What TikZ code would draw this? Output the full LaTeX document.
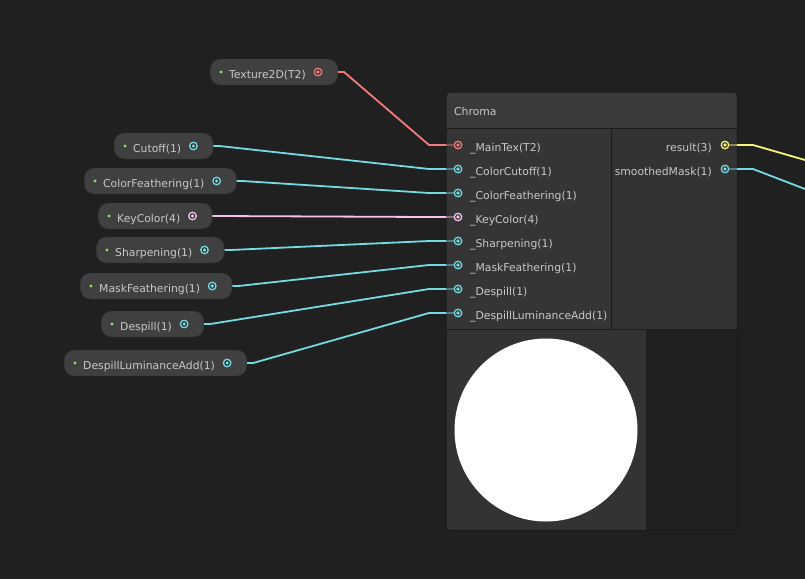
\documentclass[tikz,border=0pt]{standalone}
\usepackage{fontspec}
\setmainfont{DejaVu Sans}
\usetikzlibrary{calc}
\definecolor{canvas}{HTML}{202020}
\definecolor{propfill}{HTML}{404040}
\definecolor{propedge}{HTML}{2a2a2a}
\definecolor{headfill}{HTML}{3a3a3a}
\definecolor{infill}{HTML}{353535}
\definecolor{outfill}{HTML}{333333}
\definecolor{prevfill}{HTML}{333333}
\definecolor{frameedge}{HTML}{1a1a1a}
\definecolor{labelgray}{HTML}{c8c8c8}
\definecolor{portdark}{HTML}{2c2c2c}
\definecolor{dotgreen}{HTML}{8de05b}
\definecolor{flt}{HTML}{74dbe2}
\definecolor{texred}{HTML}{f27c7c}
\definecolor{colpink}{HTML}{f4c2ec}
\definecolor{vecyel}{HTML}{f5f57a}
\newcommand\uifont{\fontsize{10.8}{12}\selectfont}
\tikzstyle{prop}=[rectangle, draw=propedge, fill=propfill, rounded corners=10pt, minimum height=26pt, inner xsep=19pt, inner ysep=0pt, text height=12pt, text depth=0pt, text=labelgray, font=\uifont]
\tikzstyle{slot}=[inner sep=2pt, text height=12pt, text depth=0pt, text=labelgray, font=\uifont]
\tikzset{port/.style={circle, draw=#1, fill=portdark, line width=1.3pt, minimum size=7.5pt, inner sep=0pt,
           path picture={\fill[#1] (path picture bounding box.center) circle (1.8pt);}},
         wire/.style={draw=#1, line width=1.8pt},
         stub/.style={draw=#1!45!infill, line width=1.8pt},
         link/.style={to path={-- ++(6,0) -- ($(\tikztotarget.center)+(-29,0)$) -- (\tikztotarget)}}}
\begin{document}
\begin{tikzpicture}[x=1pt,y=-1pt]
  \fill[canvas] (0,0) rectangle (805,579);
  \useasboundingbox (0,0) rectangle (805,579);
  % property nodes
  \node[prop, anchor=west] (tex) at (210,72) {Texture2D(T2)\hspace*{13pt}};
  \node[prop, anchor=west] (cutoff) at (114,146) {Cutoff(1)\hspace*{13pt}};
  \node[prop, anchor=west] (colfeath) at (84,181) {ColorFeathering(1)\hspace*{13pt}};
  \node[prop, anchor=west] (keycol) at (98,216) {KeyColor(4)\hspace*{13pt}};
  \node[prop, anchor=west] (sharp) at (96,250) {Sharpening(1)\hspace*{13pt}};
  \node[prop, anchor=west] (maskfeath) at (80,286) {MaskFeathering(1)\hspace*{13pt}};
  \node[prop, anchor=west] (despill) at (101,324) {Despill(1)\hspace*{13pt}};
  \node[prop, anchor=west] (dla) at (64,363) {DespillLuminanceAdd(1)\hspace*{13pt}};
  \foreach \n/\c in {tex/texred, cutoff/flt, colfeath/flt, keycol/colpink,
                     sharp/flt, maskfeath/flt, despill/flt, dla/flt} {
    \fill[dotgreen] ([xshift=11pt]\n.west) circle (1.6pt);
    \node[port=\c] (\n-out) at ([xshift=-20pt]\n.east) {};
  }
  % chroma node
  \node[rectangle, minimum width=291pt, minimum height=438pt, anchor=north west, inner sep=0pt] (chroma) at (446,92) {};
  \begin{scope}
    \clip[rounded corners=4pt] (chroma.north west) rectangle (chroma.south east);
    \fill[headfill] (446,92) rectangle (737,128);
    \fill[infill] (446,128) rectangle (611,329);
    \fill[outfill] (611,128) rectangle (737,329);
    \fill[prevfill] (446,329) rectangle (646,530);
    \fill[canvas] (646,329) rectangle (737,530);
  \end{scope}
  \draw[frameedge, line width=1pt] (446,128) -- (737,128);
  \draw[frameedge, line width=1pt] (611,128) -- (611,329);
  \draw[frameedge, line width=1pt] (446,329) -- (737,329);
  \draw[frameedge, line width=1pt, rounded corners=4pt] (chroma.north west) rectangle (chroma.south east);
  \node[slot, anchor=west] (chroma-title) at (452,109) {Chroma};
  \node[circle, fill=white, minimum size=183pt, inner sep=0pt] (preview) at (546,430) {};
  \foreach \nm/\lbl/\c [count=\i] in {maintex/\_MainTex(T2)/texred, colcut/\_ColorCutoff(1)/flt,
        colfeath/\_ColorFeathering(1)/flt, keycol/\_KeyColor(4)/colpink, sharp/\_Sharpening(1)/flt,
        maskfeath/\_MaskFeathering(1)/flt, despill/\_Despill(1)/flt, dla/\_DespillLuminanceAdd(1)/flt} {
    \node[port=\c] (in-\nm) at (458,121+24*\i) {};
    \node[slot, anchor=west] (lbl-\nm) at (468,121+24*\i) {\lbl};
  }
  \node[port=vecyel] (out-res) at (725,145) {};
  \node[slot, anchor=east] (lbl-res) at (714,145) {result(3)};
  \node[port=flt] (out-mask) at (725,169) {};
  \node[slot, anchor=east] (lbl-mask) at (714,169) {smoothedMask(1)};
  % wires
  \draw[wire=texred] (tex.east) to[link] (in-maintex);
  \draw[wire=flt] (cutoff.east) to[link] (in-colcut);
  \draw[wire=flt] (colfeath.east) to[link] (in-colfeath);
  \draw[wire=colpink] (keycol.east) to[link] (in-keycol);
  \draw[wire=flt] (sharp.east) to[link] (in-sharp);
  \draw[wire=flt] (maskfeath.east) to[link] (in-maskfeath);
  \draw[wire=flt] (despill.east) to[link] (in-despill);
  \draw[wire=flt] (dla.east) to[link] (in-dla);
  \foreach \nm/\c in {maintex/texred, colcut/flt, colfeath/flt, keycol/colpink,
                      sharp/flt, maskfeath/flt, despill/flt, dla/flt}
    \draw[stub=\c] ([xshift=-12pt]in-\nm.center) -- (in-\nm.west);
  \coordinate (res-end) at (805,160);
  \coordinate (mask-end) at (805,189);
  \draw[stub=vecyel] (out-res.east) -- ([xshift=12pt]out-res.center);
  \draw[wire=vecyel] ([xshift=12pt]out-res.center) -- ++(16,0) -- (res-end);
  \draw[stub=flt] (out-mask.east) -- ([xshift=12pt]out-mask.center);
  \draw[wire=flt] ([xshift=12pt]out-mask.center) -- ++(16,0) -- (mask-end);
\end{tikzpicture}
\end{document}
